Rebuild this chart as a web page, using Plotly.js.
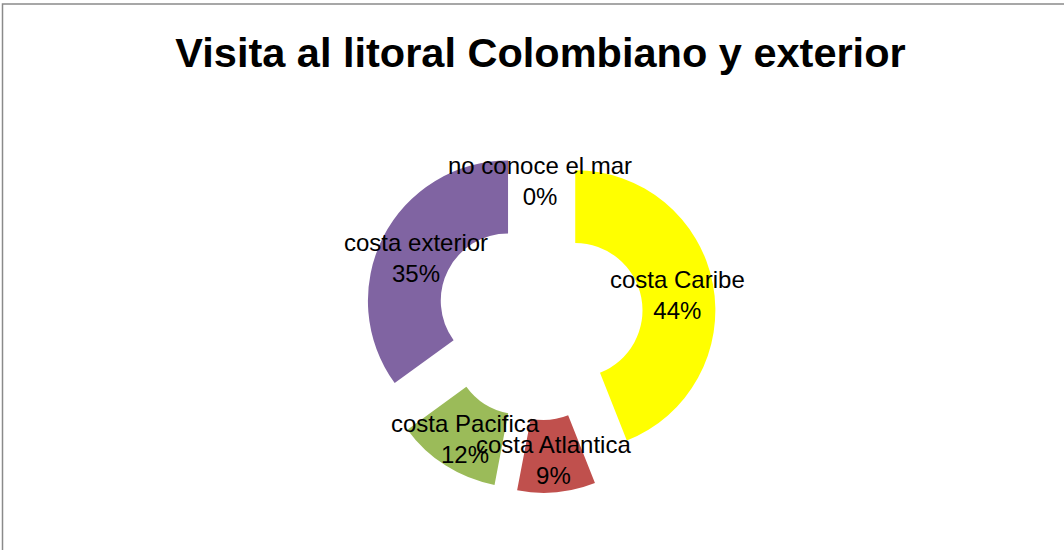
<!DOCTYPE html>
<html><head><meta charset="utf-8">
<script src="https://cdn.plot.ly/plotly-3.0.1.min.js"></script>
<style>html,body{margin:0;padding:0;background:#fff}#chart{width:1064px;height:550px}</style>
</head><body><div id="chart"></div>
<script>
const categories = ['costa Caribe', 'costa Atlantica', 'costa Pacifica', 'costa exterior', 'no conoce el mar'];
const values = [44, 9, 12, 35, 0];
const colors = ['#FFFF00', '#C0504D', '#9BBB59', '#8064A2', '#4BACC6'];
const chartTitle = 'Visita al litoral Colombiano y exterior';

const W = 1064, H = 550;
const PULL = 0.256, HOLE = 0.48;
const LABEL_FONT = {family: 'Liberation Sans, Arial, sans-serif', size: 24, color: '#000000'};

const trace = {
  type: 'pie',
  labels: categories,
  values: values,
  marker: {colors: colors, line: {width: 0}},
  sort: false,
  direction: 'clockwise',
  rotation: 0,
  hole: HOLE,
  pull: PULL,
  textinfo: 'none',
  hoverinfo: 'label+percent',
  showlegend: false,
  domain: {x: [360 / W, 720 / W], y: [1 - 493 / H, 1 - 141 / H]}
};

const layout = {
  width: W, height: H,
  margin: {l: 0, r: 0, t: 0, b: 0},
  paper_bgcolor: '#ffffff',
  plot_bgcolor: '#ffffff',
  showlegend: false,
  title: {
    text: chartTitle,
    font: {family: 'Liberation Sans, Arial, sans-serif', size: 41.5, weight: 'bold', color: '#000000'},
    x: 540.5 / W, xanchor: 'center',
    y: 1 - 52 / H, yanchor: 'middle', yref: 'container'
  },
  shapes: [{
    type: 'rect', xref: 'paper', yref: 'paper',
    x0: 2.5 / W, x1: 1.2, y0: -0.2, y1: 1 - 4 / H,
    line: {color: '#8a8a8a', width: 1.5}, fillcolor: 'rgba(0,0,0,0)', layer: 'above'
  }]
};

const gd = document.getElementById('chart');
Plotly.newPlot(gd, [trace], layout, {displayModeBar: false, staticPlot: true}).then(function () {
  const cd0 = gd.calcdata && gd.calcdata[0] && gd.calcdata[0][0];
  const cx = (cd0 && cd0.cx) || 540;
  const cy = (cd0 && cd0.cy) || 317;
  const r = (cd0 && cd0.r) || 140;
  const total = values.reduce((a, b) => a + b, 0);
  let cum = 0;
  const annotations = [];
  const rc = (1 + HOLE) / 2;
  categories.forEach(function (lab, i) {
    const a0 = cum / total * 2 * Math.PI;
    cum += values[i];
    const a1 = cum / total * 2 * Math.PI;
    const mid = (a0 + a1) / 2;
    const dist = (PULL + rc) * r;
    const px = cx + dist * Math.sin(mid);
    const py = cy - dist * Math.cos(mid);
    const pct = Math.round(values[i] / total * 100) + '%';
    annotations.push({
      xref: 'paper', yref: 'paper', x: px / W, y: 1 - py / H,
      xanchor: 'center', yanchor: 'middle', showarrow: false, align: 'center',
      yshift: -4,
      text: lab + '<br>' + pct, font: LABEL_FONT
    });
  });
  return Plotly.relayout(gd, {annotations: annotations});
});
</script>
</body></html>
